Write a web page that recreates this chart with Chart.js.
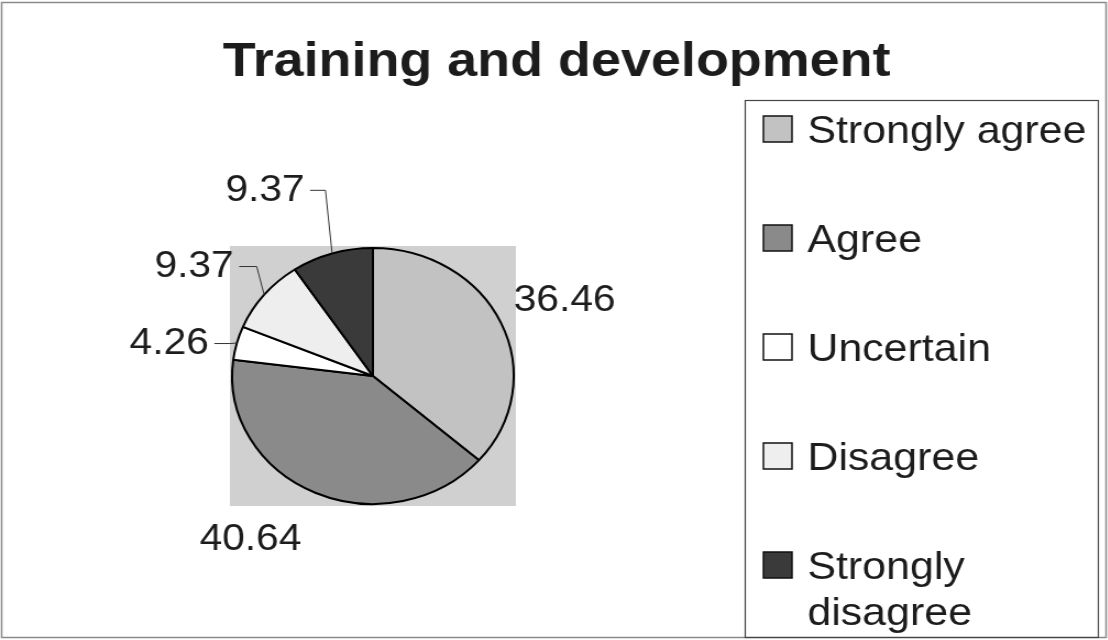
<!DOCTYPE html>
<html>
<head>
<meta charset="utf-8">
<title>Training and development</title>
<script src="https://cdn.jsdelivr.net/npm/chart.js@4.4.1/dist/chart.umd.min.js"></script>
<style>
  html, body { margin: 0; padding: 0; background: #fff; overflow: hidden; }
  /* the scanned original is stretched a bit sideways, so the whole canvas is too */
  #wrap { width: 1007px; height: 640px; transform: scaleX(1.1); transform-origin: 0 0; }
</style>
</head>
<body>
<div id="wrap"><canvas id="myChart" width="1007" height="640"></canvas></div>
<script>
// data
const chartTitle = 'Training and development';
const categories = ['Strongly agree', 'Agree', 'Uncertain', 'Disagree', 'Strongly disagree'];
const percentages = [36.46, 40.64, 4.26, 9.37, 9.37];

// look
const sliceColors = ['#c2c2c2', '#8a8a8a', '#ffffff', '#eeeeee', '#3a3a3a'];
const plotBg = '#d0d0d0';
const textColor = '#1c1c1c';
const fontFamily = '"Liberation Sans", Arial, sans-serif';

// where the value labels sit: distance from the centre and a small turn off the slice middle
const labelDist = [190, 198, 188, 196, 210];
const labelTurn = [1, 10, -5, -5.5, -11];

const W = 1007;

const pieDecor = {
  id: 'pieDecor',
  beforeDatasetsDraw(chart) {
    const a = chart.getDatasetMeta(0).data[0];
    const r = a.outerRadius;
    const ctx = chart.ctx;
    ctx.save();
    ctx.fillStyle = plotBg;
    ctx.fillRect(a.x - r - 2, a.y - r - 2, 2 * r + 4, 2 * r + 4);
    ctx.restore();
  },
  afterDraw(chart) {
    const ctx = chart.ctx;
    const meta = chart.getDatasetMeta(0);
    ctx.save();

    // outer frame
    ctx.strokeStyle = '#8a8a8a';
    ctx.lineWidth = 1.5;
    ctx.strokeRect(1.5, 2.5, W - 3, 635);

    // title
    ctx.fillStyle = textColor;
    ctx.font = 'bold 49px ' + fontFamily;
    ctx.textAlign = 'center';
    ctx.textBaseline = 'alphabetic';
    ctx.fillText(chartTitle, 506, 76);

    // value labels + leader lines for the small slices
    ctx.font = '37px ' + fontFamily;
    ctx.textBaseline = 'middle';
    ctx.strokeStyle = '#333';
    ctx.lineWidth = 1;
    meta.data.forEach((a, i) => {
      const txt = String(percentages[i]);
      const mid = (a.startAngle + a.endAngle) / 2;
      const ang = mid + labelTurn[i] * Math.PI / 180;
      const lx = a.x + Math.cos(ang) * labelDist[i];
      const ly = a.y + Math.sin(ang) * labelDist[i];
      ctx.fillText(txt, lx, ly);
      if (percentages[i] < 10) {
        const ex = a.x + Math.cos(mid) * a.outerRadius;
        const ey = a.y + Math.sin(mid) * a.outerRadius;
        const sx = lx + ctx.measureText(txt).width / 2 + 5;
        const kx = sx + (ex - sx) * 0.7;
        ctx.beginPath();
        ctx.moveTo(sx, ly);
        ctx.lineTo(kx, ly);
        ctx.lineTo(ex, ey);
        ctx.stroke();
      }
    });

    // legend box
    const boxL = 677, boxT = 100, boxR = 998;
    ctx.strokeStyle = '#444';
    ctx.lineWidth = 1.2;
    ctx.strokeRect(boxL + 0.5, boxT + 0.5, boxR - boxL, 637 - boxT);

    ctx.font = '39px ' + fontFamily;
    ctx.textAlign = 'left';
    ctx.textBaseline = 'alphabetic';
    const textX = 734, maxW = 262;
    categories.forEach((name, i) => {
      const cy = 129 + i * 109;
      ctx.fillStyle = sliceColors[i];
      ctx.fillRect(694, cy - 13, 26, 26);
      ctx.strokeStyle = '#111';
      ctx.lineWidth = 1.5;
      ctx.strokeRect(694, cy - 13, 26, 26);

      // simple word wrap
      const lines = [];
      let cur = '';
      name.split(' ').forEach(w => {
        const t = cur ? cur + ' ' + w : w;
        if (cur && ctx.measureText(t).width > maxW) { lines.push(cur); cur = w; }
        else cur = t;
      });
      lines.push(cur);
      ctx.fillStyle = textColor;
      lines.forEach((ln, k) => ctx.fillText(ln, textX, cy + 14 + k * 46));
    });

    ctx.restore();
  }
};

new Chart(document.getElementById('myChart'), {
  type: 'pie',
  data: {
    labels: categories,
    datasets: [{
      data: percentages,
      backgroundColor: sliceColors,
      borderColor: '#000',
      borderWidth: 2
    }]
  },
  options: {
    responsive: false,
    animation: false,
    layout: { padding: { left: 210, right: 539, top: 247, bottom: 135 } },
    plugins: {
      legend: { display: false },
      title: { display: false },
      tooltip: { enabled: false }
    }
  },
  plugins: [pieDecor]
});
</script>
</body>
</html>
